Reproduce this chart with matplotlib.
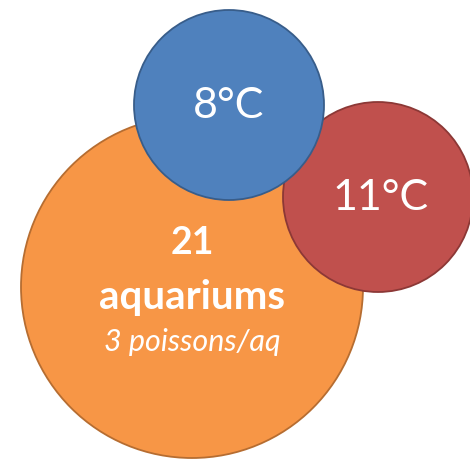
import matplotlib.pyplot as plt
from matplotlib.patches import Circle

# bulles : centre x, centre y (pixels), rayon
names = ['aquariums', '11°C', '8°C']
x_center = [192, 378, 229]
y_center = [287, 197, 105]
radius = [171, 95, 95]
fill_colors = ['#F79646', '#C0504D', '#4F81BD']
edge_colors = ['#B66D31', '#8C3836', '#385D8A']

plt.rcParams['font.family'] = ['Lato', 'DejaVu Sans']

fig = plt.figure(figsize=(4.7, 4.59), dpi=100)
ax = fig.add_axes([0, 0, 1, 1])
ax.set_xlim(0, 470)
ax.set_ylim(459, 0)
ax.set_aspect('equal')
ax.axis('off')

for i in range(len(names)):
    c = Circle((x_center[i], y_center[i]), radius[i],
               facecolor=fill_colors[i], edgecolor=edge_colors[i], linewidth=1.3)
    ax.add_patch(c)

# textes
ax.text(229, 106, '8°C', color='white', fontsize=31, ha='center', va='center')
ax.text(381, 198, '11°C', color='white', fontsize=31, ha='center', va='center')
ax.text(192, 243, '21', color='white', fontsize=27, fontweight='bold', ha='center', va='center')
ax.text(192, 297, 'aquariums', color='white', fontsize=29, fontweight='bold', ha='center', va='center')
ax.text(192, 342, '3 poissons/aq', color='white', fontsize=22, style='italic', ha='center', va='center')

fig.savefig('out.png', dpi=100)
